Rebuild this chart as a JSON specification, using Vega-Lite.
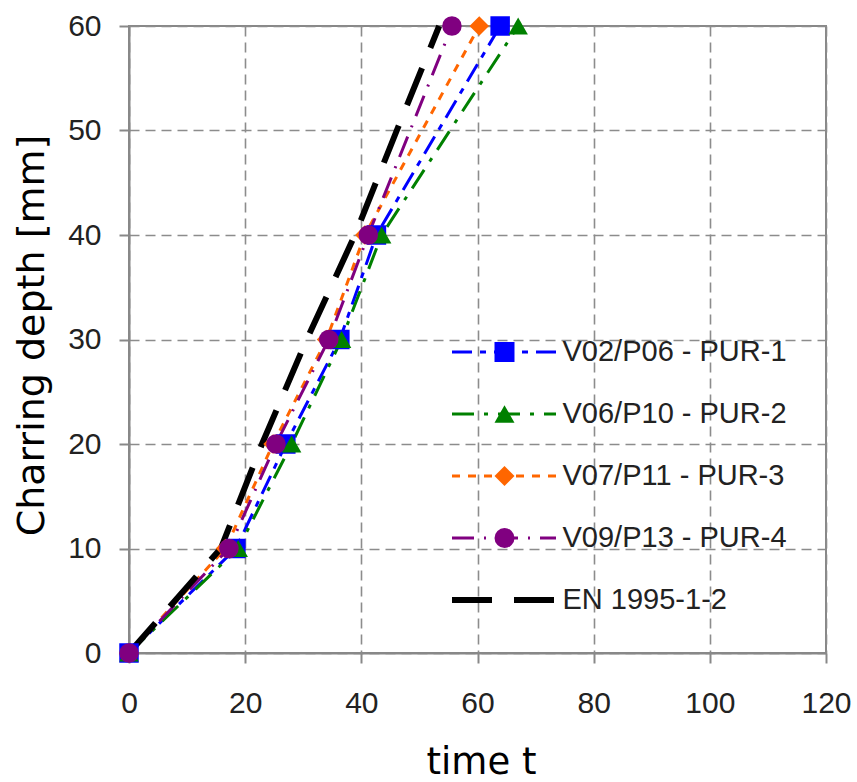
{
  "$schema": "https://vega.github.io/schema/vega-lite/v6.json",
  "width": 697,
  "height": 627,
  "autosize": {"type": "none"},
  "padding": {"left": 129, "top": 26, "right": 31, "bottom": 129},
  "background": "white",
  "config": {
    "view": {"stroke": "#888888", "strokeWidth": 2},
    "axis": {
      "gridColor": "#8c8c8c",
      "gridDash": [10, 6],
      "gridWidth": 1.6,
      "domainColor": "#888888",
      "domainWidth": 2,
      "tickColor": "#888888",
      "tickWidth": 2,
      "tickSize": 10,
      "labelFont": "Liberation Sans",
      "labelFontSize": 30,
      "labelColor": "#222222",
      "labelFlush": false,
      "labelOverlap": false,
      "titleFont": "DejaVu Sans",
      "titleFontSize": 37,
      "titleFontWeight": "normal",
      "titleColor": "#000000"
    }
  },
  "datasets": {
    "d": [
      {"series": "V02/P06 - PUR-1", "t": 0, "depth": 0},
      {"series": "V02/P06 - PUR-1", "t": 18.4, "depth": 10},
      {"series": "V02/P06 - PUR-1", "t": 27.0, "depth": 20},
      {"series": "V02/P06 - PUR-1", "t": 36.3, "depth": 30},
      {"series": "V02/P06 - PUR-1", "t": 42.6, "depth": 40},
      {"series": "V02/P06 - PUR-1", "t": 63.9, "depth": 60},
      {"series": "V06/P10 - PUR-2", "t": 0, "depth": 0},
      {"series": "V06/P10 - PUR-2", "t": 18.8, "depth": 10},
      {"series": "V06/P10 - PUR-2", "t": 28.0, "depth": 20},
      {"series": "V06/P10 - PUR-2", "t": 36.6, "depth": 30},
      {"series": "V06/P10 - PUR-2", "t": 43.5, "depth": 40},
      {"series": "V06/P10 - PUR-2", "t": 67.0, "depth": 60},
      {"series": "V07/P11 - PUR-3", "t": 0, "depth": 0},
      {"series": "V07/P11 - PUR-3", "t": 16.6, "depth": 10},
      {"series": "V07/P11 - PUR-3", "t": 24.8, "depth": 20},
      {"series": "V07/P11 - PUR-3", "t": 34.0, "depth": 30},
      {"series": "V07/P11 - PUR-3", "t": 40.6, "depth": 40},
      {"series": "V07/P11 - PUR-3", "t": 60.3, "depth": 60},
      {"series": "V09/P13 - PUR-4", "t": 0, "depth": 0},
      {"series": "V09/P13 - PUR-4", "t": 17.2, "depth": 10},
      {"series": "V09/P13 - PUR-4", "t": 25.3, "depth": 20},
      {"series": "V09/P13 - PUR-4", "t": 34.4, "depth": 30},
      {"series": "V09/P13 - PUR-4", "t": 41.2, "depth": 40},
      {"series": "V09/P13 - PUR-4", "t": 55.6, "depth": 60},
      {"series": "EN 1995-1-2", "t": 0, "depth": 0},
      {"series": "EN 1995-1-2", "t": 15.8, "depth": 10},
      {"series": "EN 1995-1-2", "t": 22.9, "depth": 20},
      {"series": "EN 1995-1-2", "t": 30.6, "depth": 30},
      {"series": "EN 1995-1-2", "t": 38.9, "depth": 40},
      {"series": "EN 1995-1-2", "t": 46.1, "depth": 50},
      {"series": "EN 1995-1-2", "t": 53.4, "depth": 60}
    ]
  },
  "data": {"name": "d"},
  "encoding": {
    "x": {
      "field": "t",
      "type": "quantitative",
      "scale": {"domain": [0, 120], "nice": false, "zero": false},
      "axis": {
        "values": [0, 20, 40, 60, 80, 100, 120],
        "labelBaseline": "alphabetic",
        "labelPadding": 49,
        "title": "time t",
        "titleBaseline": "alphabetic",
        "titleX": 352,
        "titleY": 120,
        "titleAlign": "center"
      }
    },
    "y": {
      "field": "depth",
      "type": "quantitative",
      "scale": {"domain": [0, 60], "nice": false, "zero": false},
      "axis": {
        "values": [0, 10, 20, 30, 40, 50, 60],
        "labelBaseline": "middle",
        "labelPadding": 18,
        "title": "Charring depth [mm]",
        "titleBaseline": "alphabetic",
        "titleFontSize": 38,
        "titleX": -86,
        "titleY": 309,
        "titleAlign": "center",
        "titleAngle": -90
      }
    }
  },
  "layer": [
    {
      "mark": {"type": "line"},
      "encoding": {
        "color": {
          "field": "series",
          "type": "nominal",
          "scale": {
            "domain": ["V02/P06 - PUR-1", "V06/P10 - PUR-2", "V07/P11 - PUR-3", "V09/P13 - PUR-4", "EN 1995-1-2"],
            "range": ["#0000ff", "#008000", "#ff6600", "#800080", "#000000"]
          },
          "legend": {
            "title": null,
            "orient": "none",
            "legendX": 402.5,
            "legendY": 311.5,
            "padding": 0,
            "symbolType": "M-9.4,0H1",
            "symbolSize": 400,
            "symbolStrokeWidth": 3,
            "labelFont": "Liberation Sans",
            "labelFontSize": 29,
            "labelColor": "#222222",
            "labelOffset": 2,
            "labelLimit": 400,
            "rowPadding": 32
          }
        },
        "strokeDash": {
          "field": "series",
          "type": "nominal",
          "scale": {
            "domain": ["V02/P06 - PUR-1", "V06/P10 - PUR-2", "V07/P11 - PUR-3", "V09/P13 - PUR-4", "EN 1995-1-2"],
            "range": [[20, 8, 6, 8], [22, 10, 4, 10], [8, 8], [22, 10, 2, 10], [40, 22]]
          },
          "legend": {
            "title": null,
            "orient": "none",
            "legendX": 402.5,
            "legendY": 311.5
          }
        },
        "strokeWidth": {
          "field": "series",
          "type": "nominal",
          "scale": {
            "type": "ordinal",
            "domain": ["V02/P06 - PUR-1", "V06/P10 - PUR-2", "V07/P11 - PUR-3", "V09/P13 - PUR-4", "EN 1995-1-2"],
            "range": [3, 3, 3, 3, 6]
          },
          "legend": {
            "title": null,
            "orient": "none",
            "legendX": 402.5,
            "legendY": 311.5
          }
        }
      }
    },
    {
      "transform": [{"filter": "datum.series !== 'EN 1995-1-2'"}],
      "mark": {"type": "point", "filled": true, "opacity": 1, "size": 380},
      "encoding": {
        "color": {
          "field": "series",
          "type": "nominal",
          "scale": {
            "domain": ["V02/P06 - PUR-1", "V06/P10 - PUR-2", "V07/P11 - PUR-3", "V09/P13 - PUR-4"],
            "range": ["#0000ff", "#008000", "#ff6600", "#800080"]
          },
          "legend": {
            "title": null,
            "orient": "none",
            "legendX": 361,
            "legendY": 311.5,
            "padding": 0,
            "symbolSize": 400,
            "symbolStrokeWidth": 3,
            "labelFont": "Liberation Sans",
            "labelFontSize": 29,
            "labelExpr": "''",
            "labelOffset": 2,
            "labelLimit": 400,
            "rowPadding": 32
          }
        },
        "shape": {
          "field": "series",
          "type": "nominal",
          "scale": {
            "domain": ["V02/P06 - PUR-1", "V06/P10 - PUR-2", "V07/P11 - PUR-3", "V09/P13 - PUR-4"],
            "range": ["square", "triangle-up", "diamond", "circle"]
          },
          "legend": {
            "title": null,
            "orient": "none",
            "legendX": 361,
            "legendY": 311.5
          }
        }
      }
    }
  ],
  "resolve": {"scale": {"color": "independent", "shape": "independent", "strokeDash": "independent", "strokeWidth": "independent"}}
}
